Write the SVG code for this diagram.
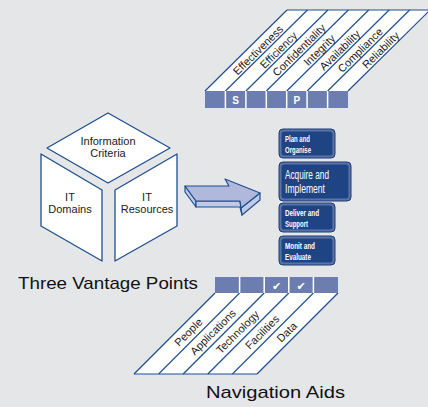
<svg xmlns="http://www.w3.org/2000/svg" width="428" height="407" viewBox="0 0 428 407">
<style>
.ln{stroke:#1f4f8f;stroke-width:1.2;fill:none}
.face{fill:#ffffff;stroke:#1f4f8f;stroke-width:1.3;stroke-linejoin:round}
.bar{fill:#6c7eb0}
.div{stroke:#ffffff;stroke-width:1.5}
.lbl{font-family:"Liberation Sans",Arial,sans-serif;font-size:11px;fill:#1a1a1a}
.cube{font-family:"Liberation Sans",Arial,sans-serif;font-size:11px;fill:#1a1a1a;text-anchor:middle}
.title{font-family:"Liberation Sans",Arial,sans-serif;font-size:17px;fill:#111111}
.bx{fill:#5b74a8;stroke:#1b3a74;stroke-width:1}
.bxi{fill:#1f4483}
.bt{font-family:"Liberation Sans",Arial,sans-serif;fill:#ffffff}
.arr{stroke:#1f4f8f;stroke-width:1.2;stroke-linejoin:round}
</style>
<rect width="428" height="407" fill="#e5e6e8"/>

<g id="criteria-strips">
  <polygon points="205,91 287,10 430,10 348,91" fill="#ffffff"/>
  <line class="ln" x1="287" y1="10" x2="430" y2="10"/>
  <line class="ln" x1="205" y1="91" x2="287" y2="10"/>
  <line class="ln" x1="225.4" y1="91" x2="307.4" y2="10"/>
  <line class="ln" x1="245.9" y1="91" x2="327.9" y2="10"/>
  <line class="ln" x1="266.3" y1="91" x2="348.3" y2="10"/>
  <line class="ln" x1="286.7" y1="91" x2="368.7" y2="10"/>
  <line class="ln" x1="307.1" y1="91" x2="389.1" y2="10"/>
  <line class="ln" x1="327.6" y1="91" x2="409.6" y2="10"/>
  <line class="ln" x1="348" y1="91" x2="430" y2="10"/>
  <g class="lbl" text-anchor="middle">
    <text transform="translate(258,50) rotate(-44.6)" y="4">Effectiveness</text>
    <text transform="translate(278.4,50) rotate(-44.6)" y="4">Efficiency</text>
    <text transform="translate(298.9,50) rotate(-44.6)" y="4">Confidentiality</text>
    <text transform="translate(319.3,50) rotate(-44.6)" y="4">Integrity</text>
    <text transform="translate(339.7,50) rotate(-44.6)" y="4">Availability</text>
    <text transform="translate(360.1,50) rotate(-44.6)" y="4">Compliance</text>
    <text transform="translate(380.6,50) rotate(-44.6)" y="4">Reliability</text>
  </g>
  <rect class="bar" x="205" y="91" width="143" height="17"/>
  <g class="div">
    <line x1="225.4" y1="91" x2="225.4" y2="108"/>
    <line x1="245.9" y1="91" x2="245.9" y2="108"/>
    <line x1="266.3" y1="91" x2="266.3" y2="108"/>
    <line x1="286.7" y1="91" x2="286.7" y2="108"/>
    <line x1="307.1" y1="91" x2="307.1" y2="108"/>
    <line x1="327.6" y1="91" x2="327.6" y2="108"/>
  </g>
  <g class="bt" font-size="10" font-weight="bold" text-anchor="middle">
    <text x="235.6" y="103.5">S</text>
    <text x="296.9" y="103.5">P</text>
  </g>
</g>

<g id="cube">
  <polygon class="face" points="108,113 170,148 108,183 47,148"/>
  <polygon class="face" points="41,154 102,190 102,261 41,226"/>
  <polygon class="face" points="115,190 177,154 177,226 115,261"/>
  <text class="cube" x="108" y="144.5">Information</text>
  <text class="cube" x="108" y="157">Criteria</text>
  <text class="cube" x="70" y="200.5">IT</text>
  <text class="cube" x="70" y="213">Domains</text>
  <text class="cube" x="147" y="200.5">IT</text>
  <text class="cube" x="147" y="213">Resources</text>
</g>

<g id="arrow">
  <polygon class="arr" fill="#c2c9e5" points="185,186 196,201 196,207 185,192"/>
  <polygon class="arr" fill="#c2c9e5" points="196,201 240,201 241,208 242,215 240,207 196,207"/>
  <polygon class="arr" fill="#c2c9e5" points="241,208 260,193 260,200 242,215"/>
  <polygon class="arr" fill="#b0b9dc" points="185,186 229,186 225,179 260,193 241,208 240,201 196,201"/>
</g>

<g id="plan-organise">
  <rect class="bx" x="279" y="129" width="56" height="29" rx="4"/>
  <rect class="bxi" x="281.5" y="131.5" width="51" height="24" rx="2.5"/>
  <text class="bt" font-size="9" font-weight="bold" x="285" y="142" textLength="25" lengthAdjust="spacingAndGlyphs">Plan and</text>
  <text class="bt" font-size="9" font-weight="bold" x="285" y="152.5" textLength="26" lengthAdjust="spacingAndGlyphs">Organise</text>
</g>
<g id="acquire-implement">
  <rect class="bx" x="279" y="162" width="72" height="39" rx="4"/>
  <rect class="bxi" x="281.5" y="164.5" width="67" height="34" rx="2.5"/>
  <text class="bt" font-size="12.5" x="285" y="179" textLength="44" lengthAdjust="spacingAndGlyphs">Acquire and</text>
  <text class="bt" font-size="12.5" x="285" y="193" textLength="40" lengthAdjust="spacingAndGlyphs">Implement</text>
</g>
<g id="deliver-support">
  <rect class="bx" x="279" y="203" width="56" height="29" rx="4"/>
  <rect class="bxi" x="281.5" y="205.5" width="51" height="24" rx="2.5"/>
  <text class="bt" font-size="9" font-weight="bold" x="285" y="216" textLength="34" lengthAdjust="spacingAndGlyphs">Deliver and</text>
  <text class="bt" font-size="9" font-weight="bold" x="285" y="226.5" textLength="23" lengthAdjust="spacingAndGlyphs">Support</text>
</g>
<g id="monitor-evaluate">
  <rect class="bx" x="279" y="236" width="56" height="29" rx="4"/>
  <rect class="bxi" x="281.5" y="238.5" width="51" height="24" rx="2.5"/>
  <text class="bt" font-size="9" font-weight="bold" x="285" y="249" textLength="30" lengthAdjust="spacingAndGlyphs">Monit and</text>
  <text class="bt" font-size="9" font-weight="bold" x="285" y="259.5" textLength="26" lengthAdjust="spacingAndGlyphs">Evaluate</text>
</g>

<text class="title" x="18" y="289" textLength="180" lengthAdjust="spacingAndGlyphs">Three Vantage Points</text>

<g id="resource-strips">
  <polygon points="215,293 338,293 257,374 134,374" fill="#ffffff"/>
  <line class="ln" x1="134" y1="374" x2="257" y2="374"/>
  <line class="ln" x1="215" y1="293" x2="134" y2="374"/>
  <line class="ln" x1="239.6" y1="293" x2="158.6" y2="374"/>
  <line class="ln" x1="264.2" y1="293" x2="183.2" y2="374"/>
  <line class="ln" x1="288.8" y1="293" x2="207.8" y2="374"/>
  <line class="ln" x1="313.4" y1="293" x2="232.4" y2="374"/>
  <line class="ln" x1="338" y1="293" x2="257" y2="374"/>
  <g class="lbl" text-anchor="middle">
    <text transform="translate(188.3,332) rotate(-45)" y="4">People</text>
    <text transform="translate(212.9,332) rotate(-45)" y="4">Applications</text>
    <text transform="translate(237.5,332) rotate(-45)" y="4">Technology</text>
    <text transform="translate(262.1,332) rotate(-45)" y="4">Facilities</text>
    <text transform="translate(286.7,332) rotate(-45)" y="4">Data</text>
  </g>
  <rect class="bar" x="215" y="277" width="123" height="16"/>
  <g class="div">
    <line x1="239.6" y1="277" x2="239.6" y2="293"/>
    <line x1="264.2" y1="277" x2="264.2" y2="293"/>
    <line x1="288.8" y1="277" x2="288.8" y2="293"/>
    <line x1="313.4" y1="277" x2="313.4" y2="293"/>
  </g>
  <g font-family="DejaVu Sans,sans-serif" font-size="11" fill="#ffffff" text-anchor="middle">
    <text x="276.5" y="289.5">✔</text>
    <text x="301.1" y="289.5">✔</text>
  </g>
</g>

<text class="title" x="206" y="398" textLength="139" lengthAdjust="spacingAndGlyphs">Navigation Aids</text>
</svg>
